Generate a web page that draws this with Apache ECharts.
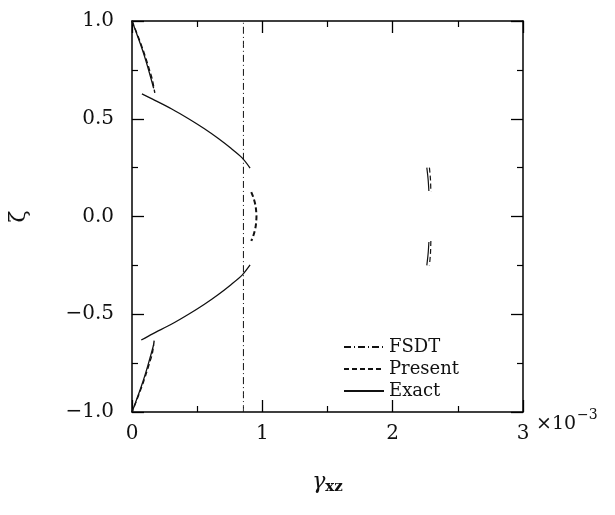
<!DOCTYPE html>
<html>
<head>
<meta charset="utf-8">
<script src="https://cdn.jsdelivr.net/npm/echarts@6/dist/echarts.min.js"></script>
<style>
html, body { margin: 0; padding: 0; background: #fff; }
#chart_strain { width: 615px; height: 515px; }
</style>
</head>
<body>
<div id="chart_strain"></div>
<script>
var chart_strain = echarts.init(document.getElementById("chart_strain"));

// 横轴单位 1e-3, 纵轴 zeta
var x_ticks = [0, 1, 2, 3];
var y_ticks = [-1.0, -0.5, 0.0, 0.5, 1.0];

// FSDT (常数)
var fsdt_x = 0.855;

// Exact 各层 [gamma, zeta]
var exact_top_outer = [[0, 1.0], [0.028, 0.95], [0.055, 0.9], [0.081, 0.85], [0.105, 0.8], [0.127, 0.75], [0.148, 0.7], [0.166, 0.656]];
var exact_top_inner = [[0.076, 0.627], [0.158, 0.6], [0.305, 0.55], [0.434, 0.5], [0.553, 0.45],
    [0.66, 0.4], [0.757, 0.35], [0.845, 0.3], [0.906, 0.248]];
var exact_top_core = [[2.262, 0.25], [2.272, 0.19], [2.278, 0.13]];
var exact_bot_core = [[2.278, -0.13], [2.272, -0.19], [2.262, -0.25]];
var exact_bot_inner = [[0.906, -0.248], [0.845, -0.3], [0.757, -0.35], [0.66, -0.4], [0.553, -0.45],
    [0.434, -0.5], [0.305, -0.55], [0.158, -0.6], [0.071, -0.632]];
var exact_bot_outer = [[0.166, -0.656], [0.148, -0.7], [0.127, -0.75], [0.105, -0.8], [0.081, -0.85], [0.055, -0.9], [0.028, -0.95], [0, -1.0]];

// Present 各层
var present_top_outer = [[0, 1.0], [0.03, 0.95], [0.059, 0.9], [0.086, 0.85], [0.111, 0.8], [0.134, 0.75], [0.156, 0.7], [0.175, 0.632]];
var present_top_core = [[2.282, 0.25], [2.29, 0.19], [2.293, 0.125]];
var present_mid = [[0.915, 0.125], [0.93, 0.1], [0.941, 0.075], [0.949, 0.05], [0.953, 0.025], [0.955, 0],
    [0.953, -0.025], [0.949, -0.05], [0.941, -0.075], [0.93, -0.1], [0.915, -0.125]];
var present_bot_core = [[2.293, -0.125], [2.29, -0.19], [2.282, -0.25]];
var present_bot_outer = [[0.17, -0.635], [0.156, -0.7], [0.134, -0.75], [0.111, -0.8], [0.086, -0.85], [0.059, -0.9], [0.03, -0.95], [0, -1.0]];

var font = 'DejaVu Serif';

function lineSeries(name, data, type, width) {
    return {
        name: name,
        type: 'line',
        data: data,
        symbol: 'none',
        smooth: 0.3,
        silent: true,
        itemStyle: { color: '#111' },
        lineStyle: { color: '#111', width: width, type: type }
    };
}

var series = [
    lineSeries('FSDT', [[fsdt_x, -1], [fsdt_x, 1]], [7, 3, 1, 3], 1),
    lineSeries('Present', present_top_outer, [5, 3], 1.4),
    lineSeries('Present', present_top_core, [5, 3], 1.2),
    lineSeries('Present', present_mid, [5, 3], 2),
    lineSeries('Present', present_bot_core, [5, 3], 1.2),
    lineSeries('Present', present_bot_outer, [5, 3], 1.4),
    lineSeries('Exact', exact_top_outer, 'solid', 1.3),
    lineSeries('Exact', exact_top_inner, 'solid', 1.3),
    lineSeries('Exact', exact_top_core, 'solid', 1.2),
    lineSeries('Exact', exact_bot_core, 'solid', 1.2),
    lineSeries('Exact', exact_bot_inner, 'solid', 1.3),
    lineSeries('Exact', exact_bot_outer, 'solid', 1.3)
];

var axisCommon = {
    type: 'value',
    axisLine: { show: true, onZero: false, lineStyle: { color: '#000', width: 1.5 } },
    axisTick: { show: true, inside: true, length: 12, lineStyle: { color: '#000', width: 1.3 } },
    minorTick: { show: true, splitNumber: 2, length: 6, lineStyle: { color: '#000', width: 1.2 } },
    splitLine: { show: false },
    minorSplitLine: { show: false }
};

var chart_strain_option = {
    backgroundColor: '#fff',
    animation: false,
    grid: { left: 130, top: 21, width: 393, height: 391 },
    legend: {
        data: ['FSDT', 'Present', 'Exact'],
        orient: 'vertical',
        left: 338,
        top: 333,
        itemWidth: 40,
        itemHeight: 16,
        itemGap: 4,
        itemStyle: { opacity: 0 },
        textStyle: { fontFamily: font, fontSize: 18, color: '#111' }
    },
    xAxis: [
        Object.assign({}, axisCommon, {
            position: 'bottom',
            min: x_ticks[0],
            max: x_ticks[x_ticks.length - 1],
            interval: 1,
            axisLabel: { margin: 12, fontFamily: font, fontSize: 20, color: '#111' },
            name: '{g|γ}{s|xz}',
            nameLocation: 'middle',
            nameGap: 58,
            nameTextStyle: {
                rich: {
                    g: { fontFamily: font, fontStyle: 'italic', fontSize: 22, color: '#111' },
                    s: { fontFamily: font, fontWeight: 'bold', fontSize: 15, color: '#111', padding: [10, 0, 0, 0] }
                }
            }
        }),
        Object.assign({}, axisCommon, {
            position: 'top',
            min: 0, max: 3, interval: 1,
            axisLabel: { show: false }
        })
    ],
    yAxis: [
        Object.assign({}, axisCommon, {
            position: 'left',
            min: y_ticks[0],
            max: y_ticks[y_ticks.length - 1],
            interval: 0.5,
            axisLabel: {
                margin: 18, fontFamily: font, fontSize: 20, color: '#111',
                formatter: function (v) { return v.toFixed(1).replace('-', '−'); }
            },
            name: 'ζ',
            nameLocation: 'middle',
            nameGap: 102,
            nameTextStyle: { fontFamily: font, fontSize: 22, color: '#111' }
        }),
        Object.assign({}, axisCommon, {
            position: 'right',
            min: -1, max: 1, interval: 0.5,
            axisLabel: { show: false }
        })
    ],
    graphic: [
        { type: 'text', left: 536, top: 415, style: { text: '×10', fontFamily: font, fontSize: 19, fill: '#111' } },
        { type: 'text', left: 577, top: 408, style: { text: '−3', fontFamily: font, fontSize: 14, fill: '#111' } }
    ],
    series: series
};

chart_strain.setOption(chart_strain_option);
</script>
</body>
</html>
